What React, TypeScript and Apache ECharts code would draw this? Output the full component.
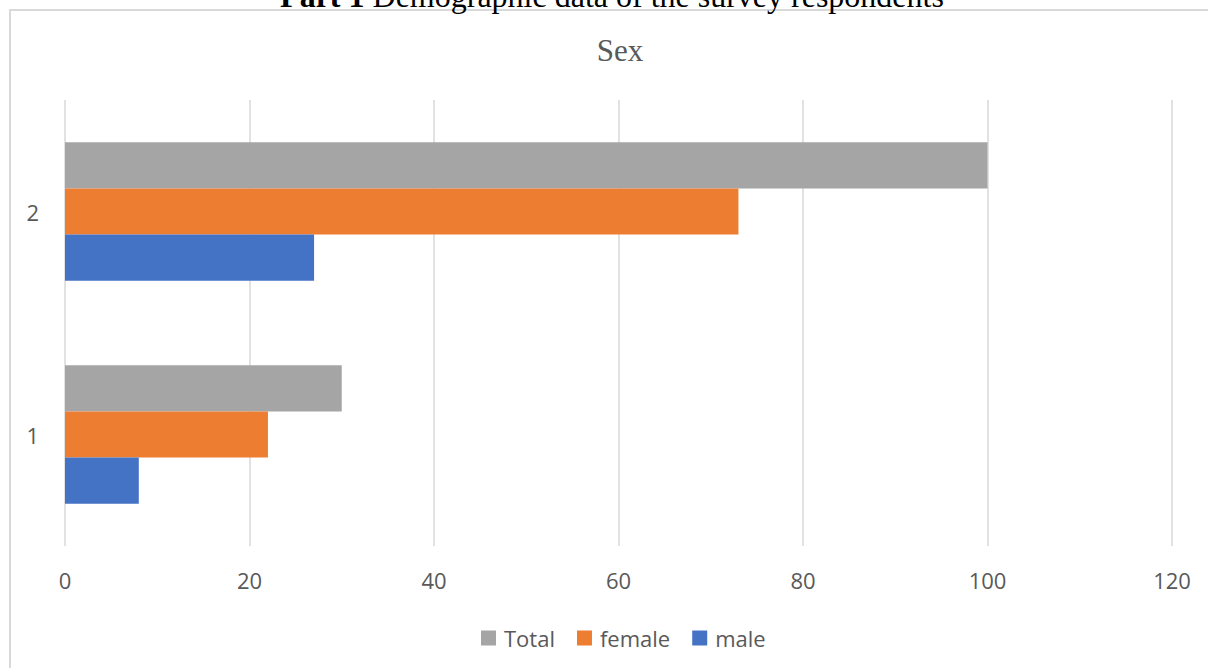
import React, { useEffect, useRef } from "react";
import * as echarts from "echarts";

const categories = ["1", "2"];
const totalValues = [30, 100];
const femaleValues = [22, 73];
const maleValues = [8, 27];
const seriesNames = ["Total", "female", "male"];
const xTicks = { min: 0, max: 120, interval: 20 };

const headerBold = "Part 1";
const headerRest = " Demographic data of the survey respondents";
const chartTitle = "Sex";

export default function App() {
  const ref = useRef<HTMLDivElement>(null);
  useEffect(() => {
    if (!ref.current) return;
    const chart = echarts.init(ref.current, undefined, { renderer: "svg" });
    const font = "'Open Sans', 'Noto Sans', sans-serif";
    const serif = "'Liberation Serif', 'Times New Roman', serif";
    chart.setOption({
      animation: false,
      backgroundColor: "#ffffff",
      title: {
        text: chartTitle,
        left: 615,
        top: 30,
        textAlign: "center",
        textStyle: {
          fontFamily: serif,
          fontSize: 31,
          fontWeight: "normal",
          color: "#595959",
        },
      },
      graphic: [
        {
          type: "rect",
          shape: { x: 10, y: 10, width: 1220, height: 680 },
          style: { fill: "none", stroke: "#d9d9d9", lineWidth: 2 },
          silent: true,
        },
        {
          type: "text",
          x: 612,
          y: 12,
          style: {
            text: "{b|" + headerBold + "}{n|" + headerRest + "}",
            textAlign: "center",
            textVerticalAlign: "bottom",
            rich: {
              b: { fontFamily: serif, fontSize: 32, fontWeight: "bold", fill: "#000" },
              n: { fontFamily: serif, fontSize: 32, fill: "#000" },
            },
          },
        },
      ],
      legend: {
        data: seriesNames,
        left: 476,
        top: 622,
        itemWidth: 15,
        itemHeight: 15,
        itemGap: 22,
        icon: "rect",
        textStyle: {
          fontFamily: font,
          fontSize: 22,
          color: "#595959",
          padding: [0, 0, 0, 3],
        },
      },
      grid: { left: 65, right: 36, top: 100, bottom: 122, containLabel: false },
      xAxis: {
        type: "value",
        min: xTicks.min,
        max: xTicks.max,
        interval: xTicks.interval,
        axisLine: { show: false },
        axisTick: { show: false },
        axisLabel: { fontFamily: font, fontSize: 22, color: "#595959", margin: 23 },
        splitLine: { lineStyle: { color: "#d9d9d9", width: 1.5 } },
      },
      yAxis: {
        type: "category",
        data: categories,
        axisLine: { show: false },
        axisTick: { show: false },
        axisLabel: { fontFamily: font, fontSize: 22, color: "#595959", margin: 26 },
        splitLine: { show: false },
      },
      series: [
        {
          name: seriesNames[0],
          type: "bar",
          data: totalValues,
          itemStyle: { color: "#A5A5A5" },
          barGap: "0%",
          barCategoryGap: "38%",
        },
        {
          name: seriesNames[1],
          type: "bar",
          data: femaleValues,
          itemStyle: { color: "#ED7D31" },
          barGap: "0%",
          barCategoryGap: "38%",
        },
        {
          name: seriesNames[2],
          type: "bar",
          data: maleValues,
          itemStyle: { color: "#4472C4" },
          barGap: "0%",
          barCategoryGap: "38%",
        },
      ],
    });
    return () => chart.dispose();
  }, []);
  return (
    <div
      ref={ref}
      style={{ position: "fixed", left: 0, top: 0, width: 1208, height: 668 }}
    />
  );
}
